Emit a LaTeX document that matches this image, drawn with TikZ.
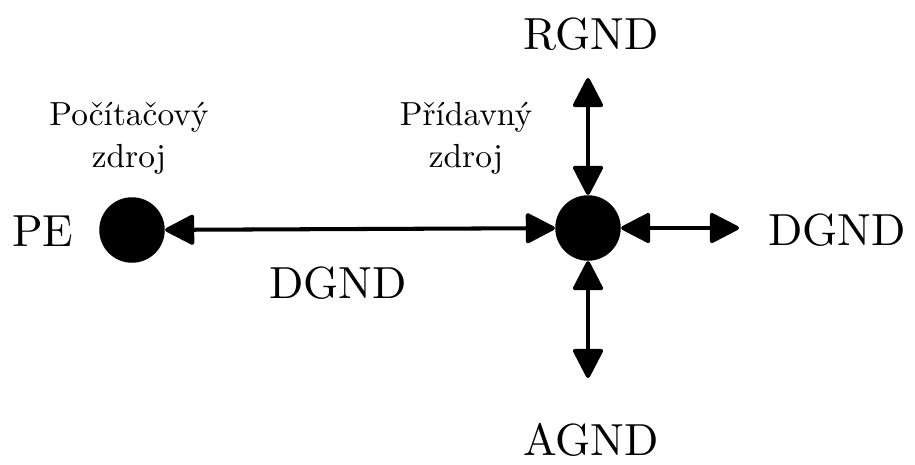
\documentclass[tikz,border=0pt]{standalone}
\usepackage{tikz}
\usetikzlibrary{arrows.meta}

\newcommand{\velkytext}[1]{\scalebox{2.56}{#1}}
\newcommand{\malytext}[2]{\scalebox{1.9}{\renewcommand{\arraystretch}{1.07}\begin{tabular}[t]{@{}c@{}}#1\\#2\end{tabular}}}

\begin{document}
\begin{tikzpicture}[x=0.02cm,y=-0.02cm,
  bod/.style={circle,fill=black,inner sep=0pt,minimum size=1.31cm},
  gnd/.style={line width=2.3pt,{Triangle[length=18pt,width=18pt,round]}-{Triangle[length=18pt,width=18pt,round]}},
  popis/.style={font=\fontsize{10}{12}\selectfont,anchor=base,inner sep=0pt}]
\useasboundingbox (0,0) rectangle (915,464);

% the two ground points
\node[bod] (pc) at (132,230) {};
\node[bod] (aux) at (588,228) {};

% free ends of the arrows
\coordinate (top) at (588,78);
\coordinate (bot) at (588,378);
\coordinate (rgt) at (739,228);

\draw[gnd] (aux) -- (pc);
\draw[gnd] (aux) -- (top);
\draw[gnd] (aux) -- (bot);
\draw[gnd] (aux) -- (rgt);

% labels
\node[popis] (pe) at (43,246) {\velkytext{PE}};
\node[popis] (dgndl) at (338,298) {\velkytext{DGND}};
\node[popis] (dgndr) at (837,245) {\velkytext{DGND}};
\node[popis] (rgnd) at (591,49) {\velkytext{RGND}};
\node[popis] (agnd) at (591,455) {\velkytext{AGND}};

\node[popis] (pczdroj) at (129,125) {\malytext{Počítačový}{zdroj}};
\node[popis] (auxzdroj) at (466,125) {\malytext{Přídavný}{zdroj}};
\end{tikzpicture}
\end{document}
